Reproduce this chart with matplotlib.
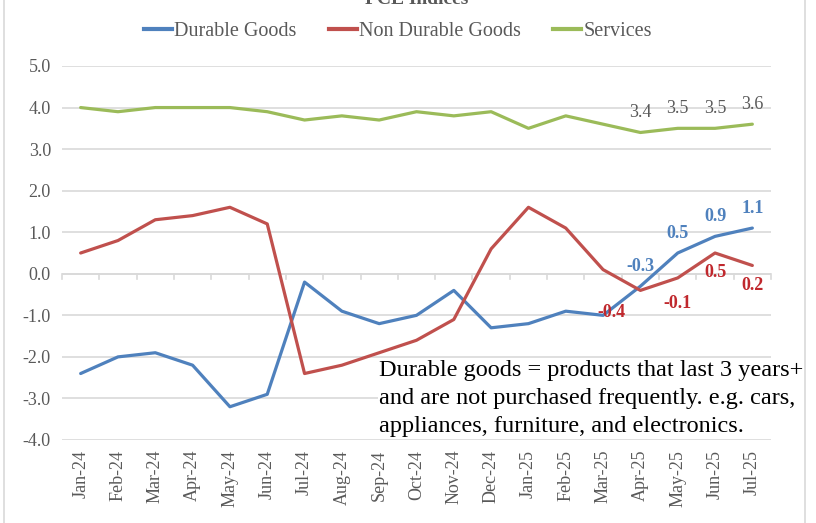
import numpy as np
import matplotlib
matplotlib.use('Agg')
import matplotlib.pyplot as plt
from matplotlib.lines import Line2D

months = ['Jan-24', 'Feb-24', 'Mar-24', 'Apr-24', 'May-24', 'Jun-24', 'Jul-24', 'Aug-24',
          'Sep-24', 'Oct-24', 'Nov-24', 'Dec-24', 'Jan-25', 'Feb-25', 'Mar-25', 'Apr-25',
          'May-25', 'Jun-25', 'Jul-25']
durable = [-2.4, -2.0, -1.9, -2.2, -3.2, -2.9, -0.2, -0.9, -1.2, -1.0, -0.4, -1.3,
           -1.2, -0.9, -1.0, -0.3, 0.5, 0.9, 1.1]
non_durable = [0.5, 0.8, 1.3, 1.4, 1.6, 1.2, -2.4, -2.2, -1.9, -1.6, -1.1, 0.6,
               1.6, 1.1, 0.1, -0.4, -0.1, 0.5, 0.2]
services = [4.0, 3.9, 4.0, 4.0, 4.0, 3.9, 3.7, 3.8, 3.7, 3.9, 3.8, 3.9,
            3.5, 3.8, 3.6, 3.4, 3.5, 3.5, 3.6]

blue = '#4F81BD'
red = '#C0504D'
green = '#9BBB59'
grey = '#595959'

plt.rcParams['font.family'] = ['Liberation Serif', 'DejaVu Serif']

fig = plt.figure(figsize=(8.16, 5.23), dpi=100)
ax = fig.add_axes([62 / 816, 1 - 440 / 523, (771 - 62) / 816, (440 - 66) / 523])

x = np.arange(len(months))
ax.plot(x, durable, color=blue, lw=2.3, solid_capstyle='round')
ax.plot(x, non_durable, color=red, lw=2.3, solid_capstyle='round')
ax.plot(x, services, color=green, lw=2.3, solid_capstyle='round')

ax.set_xlim(-0.5, len(months) - 0.5)
ax.set_ylim(-4, 5)
ax.set_yticks(np.arange(-4, 6, 1))
ax.set_yticklabels([f'{v:.1f}' for v in np.arange(-4, 6, 1)], fontsize=13, color=grey)
ax.set_xticks(x)
ax.set_xticklabels(months, rotation=90, fontsize=13, color=grey)
ax.tick_params(axis='both', length=0, pad=8)
ax.tick_params(axis='x', pad=7)
ax.grid(axis='y', color='#D9D9D9', lw=1.2)
ax.set_axisbelow(True)
for s in ax.spines.values():
    s.set_visible(False)

# zero axis line with category ticks
ax.axhline(0, color='#D9D9D9', lw=1.2, zorder=1)
for b in np.arange(-0.5, len(months), 1):
    ax.plot([b, b], [0, -0.12], color='#D9D9D9', lw=1.2, zorder=1, clip_on=False)

# data labels
for i in range(15, 19):
    ax.annotate(f'{services[i]:.1f}', (i, services[i]), xytext=(0, 8), textcoords='offset points',
                ha='center', va='bottom', fontsize=13, color=grey)
for i in range(15, 19):
    ax.annotate(f'{durable[i]:.1f}', (i, durable[i]), xytext=(0, 8), textcoords='offset points',
                ha='center', va='bottom', fontsize=13, color=blue, fontweight='bold')
red_off = {15: (-21, -10), 16: (0, -12), 17: (0, -8), 18: (0, -8)}
for i, off in red_off.items():
    ax.annotate(f'{non_durable[i]:.1f}', (i, non_durable[i]), xytext=off, textcoords='offset points',
                ha='center', va='top', fontsize=13, color='#C0282D', fontweight='bold')

ax.text(8.0, -2.08, 'Durable goods = products that last 3 years+\n'
        'and are not purchased frequently. e.g. cars,\n'
        'appliances, furniture, and electronics.',
        fontsize=17.5, color='black', va='top', ha='left', linespacing=1.42,
        bbox=dict(facecolor='white', edgecolor='none', pad=1))

# legend
handles = [Line2D([], [], color=blue, lw=3), Line2D([], [], color=red, lw=3),
           Line2D([], [], color=green, lw=3)]
fig.legend(handles, ['Durable Goods', 'Non Durable Goods', 'Services'], loc='center',
           bbox_to_anchor=(398 / 816, 1 - 31 / 523), ncol=3, frameon=False, fontsize=14.5,
           handlelength=1.4, handletextpad=0.1, columnspacing=1.6, labelcolor=grey)

# title cut off at top of the picture
fig.text(417 / 816, 1.0, 'PCE Indices', ha='center', va='center', fontsize=14,
         color=grey, fontweight='bold')

# chart frame edges
fig.add_artist(Line2D([4 / 816, 4 / 816], [0, 1], color='#D9D9D9', lw=1.2))
fig.add_artist(Line2D([805 / 816, 805 / 816], [0, 1], color='#D9D9D9', lw=1.2))

fig.savefig('out.png', dpi=100)
